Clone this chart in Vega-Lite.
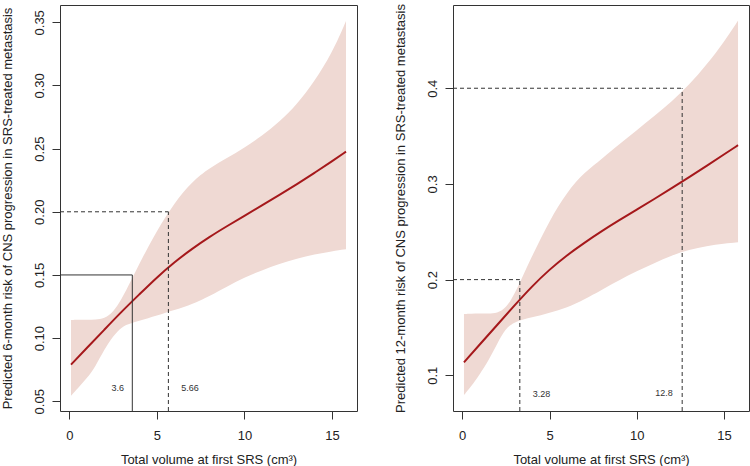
{
  "$schema": "https://vega.github.io/schema/vega-lite/v6.json",
  "padding": {"left": 0, "top": 3, "right": 0, "bottom": 0},
  "spacing": 96,
  "bounds": "flush",
  "config": {
    "view": {"stroke": "#333333", "strokeWidth": 1},
    "axis": {"domain": false, "grid": false, "tickSize": 8, "tickColor": "#333333", "labelFont": "Liberation Sans", "labelFontSize": 13, "labelColor": "#222222", "titleFont": "Liberation Sans", "titleFontSize": 13, "titleFontWeight": "normal", "titleColor": "#222222"},
    "axisY": {"labelAngle": 270, "labelAlign": "center", "labelBaseline": "bottom", "labelPadding": 6, "titlePadding": 19},
    "axisX": {"labelPadding": 10, "titlePadding": 11},
    "text": {"font": "Liberation Sans"}
  },
  "datasets": {
    "left_fit": [
      {"volume": 0.1, "risk": 0.0790},
      {"volume": 1, "risk": 0.0921},
      {"volume": 2, "risk": 0.1066},
      {"volume": 3, "risk": 0.1211},
      {"volume": 4, "risk": 0.1346},
      {"volume": 5, "risk": 0.1481},
      {"volume": 6, "risk": 0.1601},
      {"volume": 7, "risk": 0.1706},
      {"volume": 8, "risk": 0.1801},
      {"volume": 9, "risk": 0.1886},
      {"volume": 10, "risk": 0.1968},
      {"volume": 11, "risk": 0.2050},
      {"volume": 12, "risk": 0.2133},
      {"volume": 13, "risk": 0.2219},
      {"volume": 14, "risk": 0.2308},
      {"volume": 15, "risk": 0.2400},
      {"volume": 15.8, "risk": 0.2476}
    ],
    "left_band": [
      {"volume": 0.1, "lower": 0.0543, "upper": 0.1143},
      {"volume": 0.5, "lower": 0.0605, "upper": 0.1145},
      {"volume": 1, "lower": 0.0680, "upper": 0.1146},
      {"volume": 1.5, "lower": 0.0775, "upper": 0.1146},
      {"volume": 2, "lower": 0.0910, "upper": 0.1155},
      {"volume": 2.5, "lower": 0.1015, "upper": 0.1204},
      {"volume": 3, "lower": 0.1092, "upper": 0.1310},
      {"volume": 3.5, "lower": 0.1115, "upper": 0.1448},
      {"volume": 4, "lower": 0.1137, "upper": 0.1588},
      {"volume": 4.5, "lower": 0.1157, "upper": 0.1722},
      {"volume": 5, "lower": 0.1178, "upper": 0.1845},
      {"volume": 5.5, "lower": 0.1200, "upper": 0.1960},
      {"volume": 6, "lower": 0.1222, "upper": 0.2065},
      {"volume": 6.5, "lower": 0.1243, "upper": 0.2155},
      {"volume": 7, "lower": 0.1270, "upper": 0.2230},
      {"volume": 7.5, "lower": 0.1300, "upper": 0.2292},
      {"volume": 8, "lower": 0.1333, "upper": 0.2345},
      {"volume": 9, "lower": 0.1408, "upper": 0.2425},
      {"volume": 10, "lower": 0.1480, "upper": 0.2508},
      {"volume": 11, "lower": 0.1537, "upper": 0.2600},
      {"volume": 12, "lower": 0.1588, "upper": 0.2712},
      {"volume": 13, "lower": 0.1630, "upper": 0.2850},
      {"volume": 14, "lower": 0.1663, "upper": 0.3032},
      {"volume": 15, "lower": 0.1688, "upper": 0.3255},
      {"volume": 15.8, "lower": 0.1703, "upper": 0.3510}
    ],
    "right_fit": [
      {"volume": 0.1, "risk": 0.1136},
      {"volume": 1, "risk": 0.1321},
      {"volume": 2, "risk": 0.1526},
      {"volume": 3, "risk": 0.1731},
      {"volume": 4, "risk": 0.1931},
      {"volume": 5, "risk": 0.2106},
      {"volume": 6, "risk": 0.2256},
      {"volume": 7, "risk": 0.2386},
      {"volume": 8, "risk": 0.2508},
      {"volume": 9, "risk": 0.2622},
      {"volume": 10, "risk": 0.2732},
      {"volume": 11, "risk": 0.2842},
      {"volume": 12, "risk": 0.2955},
      {"volume": 13, "risk": 0.3071},
      {"volume": 14, "risk": 0.3189},
      {"volume": 15, "risk": 0.3309},
      {"volume": 15.8, "risk": 0.3405}
    ],
    "right_band": [
      {"volume": 0.1, "lower": 0.0794, "upper": 0.1641},
      {"volume": 0.5, "lower": 0.0880, "upper": 0.1643},
      {"volume": 1, "lower": 0.1010, "upper": 0.1645},
      {"volume": 1.5, "lower": 0.1150, "upper": 0.1646},
      {"volume": 2, "lower": 0.1330, "upper": 0.1650},
      {"volume": 2.5, "lower": 0.1495, "upper": 0.1698},
      {"volume": 3, "lower": 0.1555, "upper": 0.1850},
      {"volume": 3.5, "lower": 0.1585, "upper": 0.2050},
      {"volume": 4, "lower": 0.1605, "upper": 0.2245},
      {"volume": 4.5, "lower": 0.1628, "upper": 0.2432},
      {"volume": 5, "lower": 0.1652, "upper": 0.2608},
      {"volume": 5.5, "lower": 0.1680, "upper": 0.2768},
      {"volume": 6, "lower": 0.1710, "upper": 0.2905},
      {"volume": 6.5, "lower": 0.1748, "upper": 0.3020},
      {"volume": 7, "lower": 0.1793, "upper": 0.3115},
      {"volume": 7.5, "lower": 0.1843, "upper": 0.3190},
      {"volume": 8, "lower": 0.1895, "upper": 0.3265},
      {"volume": 9, "lower": 0.1995, "upper": 0.3415},
      {"volume": 10, "lower": 0.2090, "upper": 0.3562},
      {"volume": 11, "lower": 0.2172, "upper": 0.3710},
      {"volume": 12, "lower": 0.2255, "upper": 0.3860},
      {"volume": 13, "lower": 0.2312, "upper": 0.4035},
      {"volume": 14, "lower": 0.2352, "upper": 0.4245},
      {"volume": 15, "lower": 0.2377, "upper": 0.4485},
      {"volume": 15.8, "lower": 0.2390, "upper": 0.4707}
    ],
    "left_solid_guides": [
      {"volume": 3.6, "volume_end": 3.6, "risk": 0.0423, "risk_end": 0.15},
      {"volume": -0.528, "volume_end": 3.6, "risk": 0.15, "risk_end": 0.15}
    ],
    "left_dashed_guides": [
      {"volume": 5.66, "volume_end": 5.66, "risk": 0.0423, "risk_end": 0.2},
      {"volume": -0.528, "volume_end": 5.66, "risk": 0.2, "risk_end": 0.2}
    ],
    "right_dashed_guides": [
      {"volume": 3.3, "volume_end": 3.3, "risk": 0.0627, "risk_end": 0.2},
      {"volume": -0.528, "volume_end": 3.3, "risk": 0.2, "risk_end": 0.2},
      {"volume": 12.6, "volume_end": 12.6, "risk": 0.0627, "risk_end": 0.4},
      {"volume": -0.528, "volume_end": 12.6, "risk": 0.4, "risk_end": 0.4}
    ],
    "left_labels": [
      {"volume": 2.77, "risk": 0.0605, "label": "3.6"},
      {"volume": 6.89, "risk": 0.0605, "label": "5.66"}
    ],
    "right_labels": [
      {"volume": 4.54, "risk": 0.080, "label": "3.28"},
      {"volume": 11.56, "risk": 0.081, "label": "12.8"}
    ]
  },
  "hconcat": [
    {
      "width": 297,
      "height": 406,
      "layer": [
        {
          "data": {"name": "left_band"},
          "mark": {"type": "area", "color": "#efd9d3", "interpolate": "basis"},
          "encoding": {
            "x": {"field": "volume", "type": "quantitative", "scale": {"domain": [-0.528, 16.428], "nice": false, "zero": false}, "axis": {"values": [0, 5, 10, 15], "title": "Total volume at first SRS (cm³)"}},
            "y": {"field": "upper", "type": "quantitative", "scale": {"domain": [0.0423, 0.3637], "nice": false, "zero": false}, "axis": {"values": [0.05, 0.1, 0.15, 0.2, 0.25, 0.3, 0.35], "format": ".2f", "title": "Predicted 6-month risk of CNS progression in SRS-treated metastasis"}},
            "y2": {"field": "lower"}
          }
        },
        {
          "data": {"name": "left_fit"},
          "mark": {"type": "line", "color": "#a5181b", "strokeWidth": 2, "interpolate": "basis"},
          "encoding": {
            "x": {"field": "volume", "type": "quantitative"},
            "y": {"field": "risk", "type": "quantitative"}
          }
        },
        {
          "data": {"name": "left_solid_guides"},
          "mark": {"type": "rule", "color": "#333333", "strokeWidth": 1},
          "encoding": {
            "x": {"field": "volume", "type": "quantitative"},
            "x2": {"field": "volume_end"},
            "y": {"field": "risk", "type": "quantitative"},
            "y2": {"field": "risk_end"}
          }
        },
        {
          "data": {"name": "left_dashed_guides"},
          "mark": {"type": "rule", "color": "#333333", "strokeWidth": 1, "strokeDash": [4, 3]},
          "encoding": {
            "x": {"field": "volume", "type": "quantitative"},
            "x2": {"field": "volume_end"},
            "y": {"field": "risk", "type": "quantitative"},
            "y2": {"field": "risk_end"}
          }
        },
        {
          "data": {"name": "left_labels"},
          "mark": {"type": "text", "fontSize": 9, "color": "#333333", "font": "Liberation Sans"},
          "encoding": {
            "x": {"field": "volume", "type": "quantitative"},
            "y": {"field": "risk", "type": "quantitative"},
            "text": {"field": "label"}
          }
        }
      ]
    },
    {
      "width": 296,
      "height": 406,
      "layer": [
        {
          "data": {"name": "right_band"},
          "mark": {"type": "area", "color": "#efd9d3", "interpolate": "basis"},
          "encoding": {
            "x": {"field": "volume", "type": "quantitative", "scale": {"domain": [-0.528, 16.428], "nice": false, "zero": false}, "axis": {"values": [0, 5, 10, 15], "title": "Total volume at first SRS (cm³)"}},
            "y": {"field": "upper", "type": "quantitative", "scale": {"domain": [0.0627, 0.487], "nice": false, "zero": false}, "axis": {"values": [0.1, 0.2, 0.3, 0.4], "format": ".1f", "title": "Predicted 12-month risk of CNS progression in SRS-treated metastasis"}},
            "y2": {"field": "lower"}
          }
        },
        {
          "data": {"name": "right_fit"},
          "mark": {"type": "line", "color": "#a5181b", "strokeWidth": 2, "interpolate": "basis"},
          "encoding": {
            "x": {"field": "volume", "type": "quantitative"},
            "y": {"field": "risk", "type": "quantitative"}
          }
        },
        {
          "data": {"name": "right_dashed_guides"},
          "mark": {"type": "rule", "color": "#333333", "strokeWidth": 1, "strokeDash": [4, 3]},
          "encoding": {
            "x": {"field": "volume", "type": "quantitative"},
            "x2": {"field": "volume_end"},
            "y": {"field": "risk", "type": "quantitative"},
            "y2": {"field": "risk_end"}
          }
        },
        {
          "data": {"name": "right_labels"},
          "mark": {"type": "text", "fontSize": 9, "color": "#333333", "font": "Liberation Sans"},
          "encoding": {
            "x": {"field": "volume", "type": "quantitative"},
            "y": {"field": "risk", "type": "quantitative"},
            "text": {"field": "label"}
          }
        }
      ]
    }
  ]
}
